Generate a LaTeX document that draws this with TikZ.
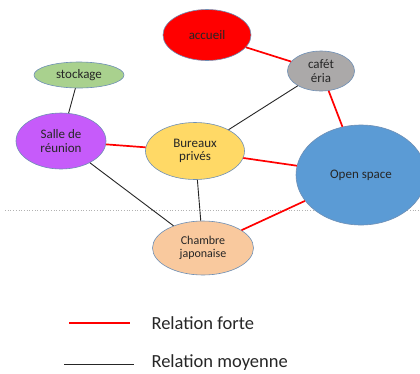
\documentclass[tikz,border=0pt]{standalone}
\usepackage{fontspec}
\setmainfont{Carlito}
\usetikzlibrary{shapes.geometric}
\definecolor{edgeblue}{HTML}{6E8FB5}
\definecolor{accred}{HTML}{FF0000}
\definecolor{cafgray}{HTML}{ABA9A9}
\definecolor{stockgreen}{HTML}{A9D18E}
\definecolor{sallepurple}{HTML}{C65BFA}
\definecolor{bureauyellow}{HTML}{FFD966}
\definecolor{openblue}{HTML}{5B9BD5}
\definecolor{chambreorange}{HTML}{F9C99E}
\tikzset{
  room/.style={ellipse, draw=edgeblue, line width=0.6pt, inner sep=0pt,
    align=center, text=black!85, font=\fontsize{13}{13.5}\selectfont},
  strong/.style={draw=red, line width=1.7pt},
  medium/.style={draw=black!85, line width=0.9pt},
  legendtext/.style={anchor=west, font=\fontsize{18.5}{20}\selectfont, text=black!85}
}
\begin{document}
\begin{tikzpicture}[x=1pt,y=-1pt]
\useasboundingbox (0,0) rectangle (420,373);
\clip (0,0) rectangle (420,373);
\fill[white] (0,0) rectangle (420,373);
% dotted guide line
\draw[gray!60, dotted, line width=0.7pt] (5,210) -- (420,210);
% rooms
\node[room, fill=accred, minimum width=88pt, minimum height=51pt] (acc) at (207,35) {accueil};
\node[room, fill=cafgray, minimum width=67pt, minimum height=40pt] (caf) at (321,71) {caf\'et\\\'eria};
\node[room, fill=stockgreen, minimum width=90pt, minimum height=26pt] (sto) at (79,75) {stockage};
\node[room, fill=sallepurple, minimum width=90pt, minimum height=56pt] (sal) at (61,141) {Salle de\\r\'eunion};
\node[room, fill=bureauyellow, minimum width=99pt, minimum height=57pt] (bur) at (195,151) {Bureaux\\priv\'es};
\node[room, fill=openblue, minimum width=130pt, minimum height=100pt] (ops) at (361,175) {Open space};
\node[room, fill=chambreorange, minimum width=101pt, minimum height=54pt, font=\fontsize{12}{13}\selectfont] (cha) at (203,248) {Chambre\\japonaise};
% relations
\draw[strong] (acc) -- (caf);
\draw[strong] (caf) -- (ops);
\draw[strong] (sal) -- (bur);
\draw[strong] (bur) -- (ops);
\draw[strong] (cha) -- (ops);
\draw[medium] (caf) -- (bur);
\draw[medium] (sto) -- (sal);
\draw[medium] (sal) -- (cha);
\draw[medium] (bur) -- (cha);
% legend
\coordinate (lf1) at (69,323);
\coordinate (lf2) at (130,323);
\coordinate (lm1) at (64,364);
\coordinate (lm2) at (134,364);
\draw[strong] (lf1) -- (lf2);
\draw[medium] (lm1) -- (lm2);
\node[legendtext] (tf) at (148,323) {Relation forte};
\node[legendtext] (tm) at (148,363) {Relation moyenne};
\end{tikzpicture}
\end{document}
